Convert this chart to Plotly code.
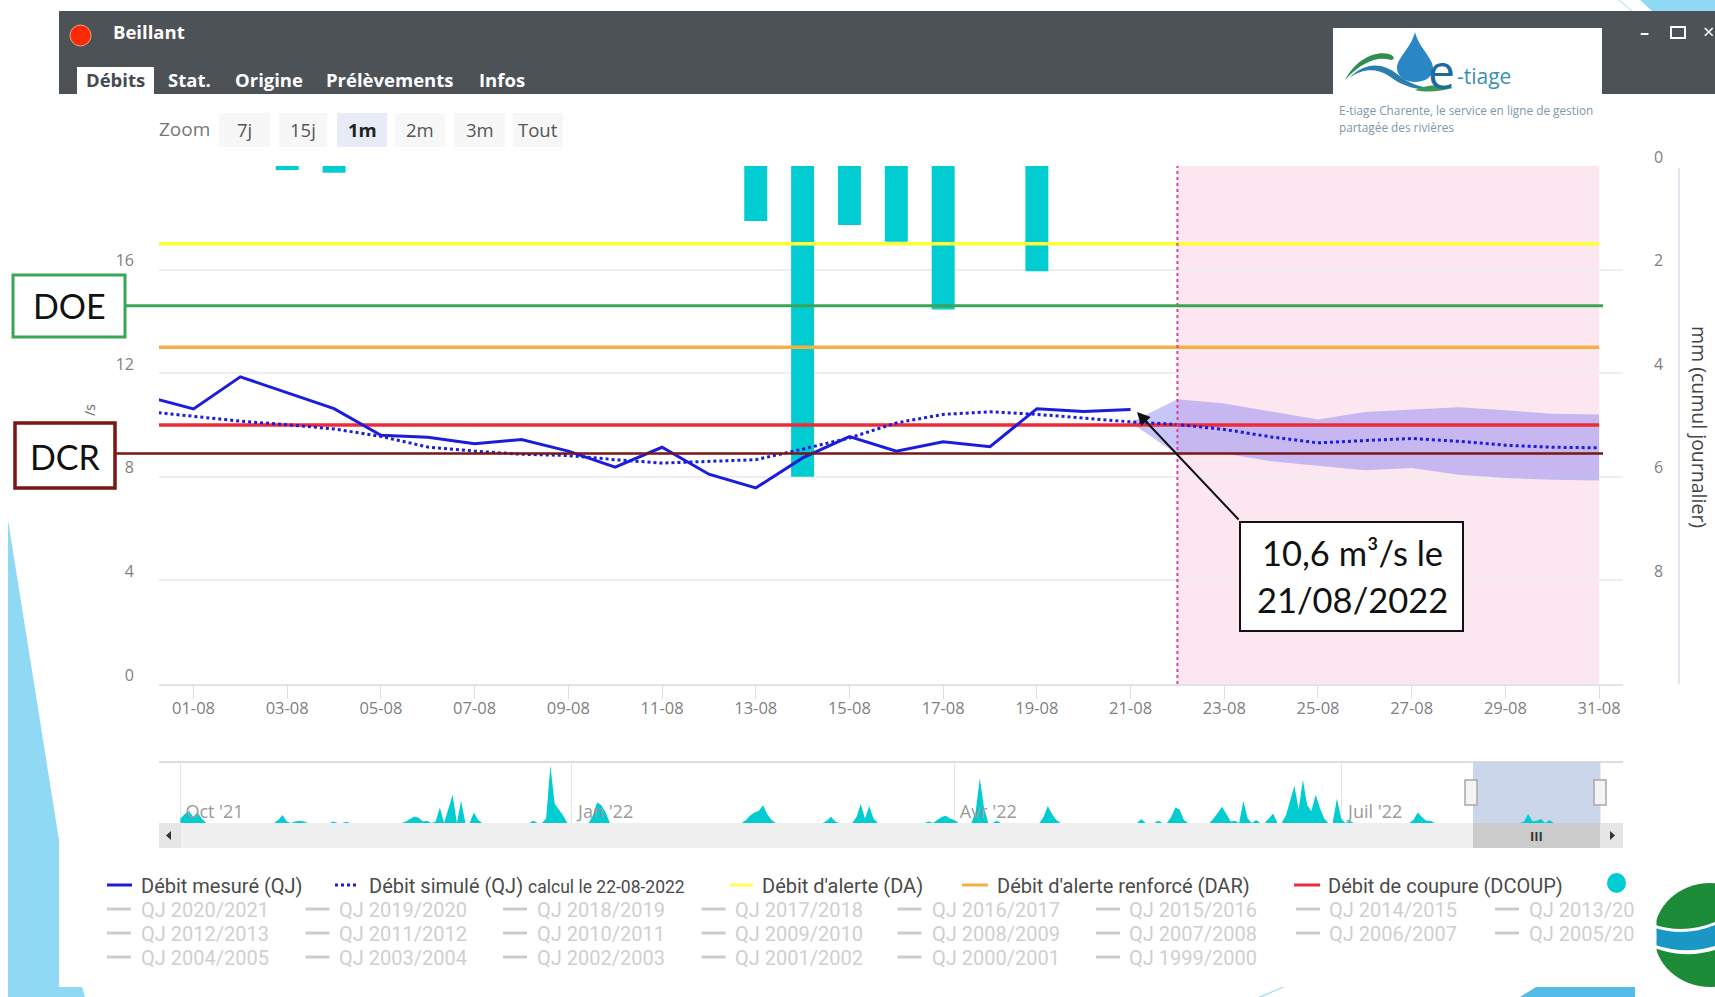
import pandas as pd
import plotly.graph_objects as go

W, H = 1715, 997

# ---------- data ----------
days_obs = [f"2022-07-31"] + [f"2022-08-{d:02d}" for d in range(1, 22)]
debit_mesure = [11.1, 10.62, 11.86, 11.25, 10.63, 9.6, 9.53, 9.28, 9.44, 8.99, 8.37, 9.14,
                8.1, 7.57, 8.73, 9.55, 8.99, 9.35, 9.16, 10.63, 10.52, 10.6]
days_sim = ["2022-07-31"] + [f"2022-08-{d:02d}" for d in range(1, 32)]
debit_simule = [10.52, 10.33, 10.15, 10.01, 9.85, 9.56, 9.15, 8.99, 8.87, 8.82, 8.66, 8.53,
                8.6, 8.66, 9.07, 9.5, 10.08, 10.41, 10.51, 10.41, 10.27, 10.12,
                10.02, 9.83, 9.54, 9.31, 9.4, 9.48, 9.37, 9.22, 9.14, 9.12]
days_band = [f"2022-08-{d:02d}" for d in range(21, 32)]
band_haut = [10.1, 10.99, 10.83, 10.53, 10.21, 10.5, 10.6, 10.69, 10.57, 10.43, 10.41]
band_bas = [10.1, 8.86, 8.9, 8.6, 8.43, 8.25, 8.34, 8.08, 7.95, 7.89, 7.86]
seuil_x = ["2022-07-31", "2022-08-31"]
DA, DAR, DCOUP, DOE, DCR = 17.0, 13.0, 10.0, 14.6, 8.9
pluie_jours = ["2022-08-03", "2022-08-04", "2022-08-13", "2022-08-14", "2022-08-15",
               "2022-08-16", "2022-08-17", "2022-08-19"]
pluie_mm = [0.08, 0.13, 1.06, 6.0, 1.14, 1.46, 2.77, 2.03]

# navigator: days after 2021-10-01 -> mm
nav_jours = [0, 1, 2, 3, 4, 5, 23, 24, 25, 27, 28, 29, 36, 39, 53, 54, 55, 56, 57, 58, 60, 61, 63, 64,
             66, 69, 70, 83, 86, 87, 88, 89, 90, 97, 98, 99, 100, 133, 134, 135, 136, 137, 138, 139,
             152, 153, 154, 159, 160, 161, 162, 163, 176, 178, 179, 180, 181, 182, 187, 188, 189, 192,
             203, 204, 205, 206, 226, 230, 233, 234, 235, 236, 243, 244, 245, 246, 247, 248, 250, 251,
             253, 256, 257, 260, 261, 262, 263, 264, 265, 266, 267, 268, 269, 272, 273, 275,
             290, 291, 292, 293, 294]
nav_mm = [3, 6, 8, 4, 7, 3, 2, 5.3, 1, 1, 1.5, 1, 1, 0.8, 1, 3, 4.4, 3.5, 1, 1.5, 1, 10.4, 9, 19,
          15, 7, 2, 1.5, 3, 38.7, 13, 9, 5, 5, 14, 12, 7, 2, 5, 7, 8, 12, 6, 2,
          1.5, 4.2, 1, 4, 12.7, 3, 11.5, 3, 1, 2, 4, 4.9, 3, 2, 7, 30, 10, 1.5,
          4, 11.5, 6, 2, 2.7, 1.5, 4, 10.4, 9, 2, 3, 7, 11, 6, 1, 1.5, 15, 3,
          2, 3, 6.4, 5, 15, 25, 9, 29, 12, 8, 19, 10, 3, 16.5, 3, 1.5,
          2, 7, 4, 1.5, 1.5]
nav_ticks = ["2021-10-01", "2022-01-01", "2022-04-01", "2022-07-01"]
nav_labels = ["Oct '21", "Jan '22", "Avr '22", "Juil '22"]

onglets = ["Stat.", "Origine", "Prélèvements", "Infos"]
onglets_x = [166, 233, 324, 477]
zoom_btn = ["7j", "15j", "1m", "2m", "3m", "Tout"]
zoom_x = [(219, 270), (279, 327), (337, 387), (395, 445), (454, 505), (513, 563)]
saisons = ["2020/2021", "2019/2020", "2018/2019", "2017/2018", "2016/2017", "2015/2016", "2014/2015", "2013/2014",
           "2012/2013", "2011/2012", "2010/2011", "2009/2010", "2008/2009", "2007/2008", "2006/2007", "2005/2006",
           "2004/2005", "2003/2004", "2002/2003", "2001/2002", "2000/2001", "1999/2000"]

# ---------- colours ----------
C_BAR = "#00ccd2"
C_BLUE = "#1c1cdc"
C_GRID = "#eeeeee"
C_SKY = "#8fd9f5"
FONT = "Open Sans"
FONT_LEG = "Roboto"


def X(px):
    return px / W


def Y(py):
    return 1 - py / H


# ---------- traces ----------
nav_idx = pd.date_range("2021-10-01", "2022-08-31", freq="D")
nav_s = pd.Series(0.0, index=nav_idx)
for j, v in zip(nav_jours, nav_mm):
    nav_s.iloc[j] = v
for d, v in zip(pluie_jours, pluie_mm):
    nav_s.loc[pd.Timestamp(d)] = v

fig = go.Figure()
fig.add_trace(go.Bar(x=pluie_jours, y=pluie_mm, xaxis="x", yaxis="y", marker=dict(color=C_BAR, line_width=0),
                     width=0.49 * 86400000, name="Pluie"))
band_x = days_band + days_band[::-1]
band_y = band_haut + band_bas[::-1]
fig.add_trace(go.Scatter(x=band_x, y=band_y, yaxis="y2", mode="lines", fill="toself",
                         fillcolor="rgba(125,120,240,0.42)", line=dict(width=0), name="Enveloppe"))
fig.add_trace(go.Scatter(x=seuil_x, y=[DA, DA], yaxis="y2", mode="lines",
                         line=dict(color="#ffff33", width=3.5), name="Débit d'alerte (DA)"))
fig.add_trace(go.Scatter(x=seuil_x, y=[DAR, DAR], yaxis="y2", mode="lines",
                         line=dict(color="#f4b040", width=3.5), name="Débit d'alerte renforcé (DAR)"))
fig.add_trace(go.Scatter(x=seuil_x, y=[DCOUP, DCOUP], yaxis="y2", mode="lines",
                         line=dict(color="#ef2b3a", width=3.5), name="Débit de coupure (DCOUP)"))
fig.add_trace(go.Scatter(x=days_sim, y=debit_simule, yaxis="y2", mode="lines",
                         line=dict(color=C_BLUE, width=3, dash="dot"), name="Débit simulé (QJ)"))
fig.add_trace(go.Scatter(x=days_obs, y=debit_mesure, yaxis="y2", mode="lines",
                         line=dict(color=C_BLUE, width=3), name="Débit mesuré (QJ)"))
fig.add_trace(go.Scatter(x=nav_s.index, y=nav_s.values, xaxis="x2", yaxis="y3", mode="lines",
                         fill="tozeroy", fillcolor=C_BAR, line=dict(width=0), name="Navigateur"))

# ---------- chrome ----------
shapes, notes = [], []


def rect(x0, y0, x1, y1, fill, line=None, lw=0, layer="below"):
    shapes.append(dict(type="rect", xref="paper", yref="paper", x0=X(x0), x1=X(x1), y0=Y(y0), y1=Y(y1),
                       fillcolor=fill, line=dict(color=line or fill, width=lw), layer=layer))


def poly(pts, fill, layer="below"):
    d = "M " + " L ".join(f"{X(a):.5f} {Y(b):.5f}" for a, b in pts) + " Z"
    shapes.append(dict(type="path", xref="paper", yref="paper", path=d, fillcolor=fill,
                       line=dict(width=0), layer=layer))


def curve(segs, fill, layer="below"):
    out = []
    for cmd, pts in segs:
        coords = " ".join(f"{X(pts[i]):.5f} {Y(pts[i + 1]):.5f}" for i in range(0, len(pts), 2))
        out.append(f"{cmd} {coords}")
    shapes.append(dict(type="path", xref="paper", yref="paper", path=" ".join(out) + " Z",
                       fillcolor=fill, line=dict(width=0), layer=layer))


def hline(x0, x1, py, color, lw, dash="solid"):
    shapes.append(dict(type="line", xref="paper", yref="paper", x0=X(x0), x1=X(x1), y0=Y(py), y1=Y(py),
                       line=dict(color=color, width=lw, dash=dash), layer="below"))


def txt(px, py, text, size, color, anchor="left", bold=False, angle=0, font=FONT):
    notes.append(dict(x=X(px), y=Y(py), xref="paper", yref="paper", text=f"<b>{text}</b>" if bold else text,
                      showarrow=False, xanchor=anchor, yanchor="middle", textangle=angle,
                      font=dict(size=size, color=color, family=font)))


# page background
poly([(8, 520), (59, 840), (59, 987), (82, 987), (85, 997), (8, 997)], C_SKY)
poly([(1520, 997), (1536, 987), (1635, 987), (1635, 997)], "#55bce9")
poly([(1258, 997), (1282, 987), (1285, 987), (1262, 997)], "#a5def5")
poly([(1640, 0), (1652, 11), (1715, 11), (1715, 0)], C_SKY)
poly([(1618, 0), (1631, 11), (1633, 11), (1620, 0)], "#c4e9f8")
# logo disc bottom right
shapes.append(dict(type="circle", xref="paper", yref="paper", x0=X(1654), x1=X(1766), y0=Y(987), y1=Y(883),
                   fillcolor="#1d8c39", line=dict(width=0), layer="below"))
curve([("M", (1652, 924)), ("C", (1675, 932, 1695, 930, 1715, 922)), ("L", (1715, 950)),
       ("C", (1695, 956, 1675, 956, 1652, 947))], "#ffffff")
curve([("M", (1652, 927)), ("C", (1675, 935, 1695, 933, 1715, 925)), ("L", (1715, 946)),
       ("C", (1695, 952, 1675, 952, 1652, 944))], "#1b97c6")

# window header
rect(59, 11, W, 94, "#4d5257")
shapes.append(dict(type="circle", xref="paper", yref="paper", x0=X(70), x1=X(91), y0=Y(46), y1=Y(25),
                   fillcolor="#fb2a04", line=dict(color="#f4a090", width=1), layer="below"))
txt(111, 32, "Beillant", 18.5, "#ffffff", bold=True)
rect(77, 67, 154, 95, "#ffffff")
txt(115.5, 80, "Débits", 18.5, "#444a50", anchor="center", bold=True)
for name, px in zip(onglets, onglets_x):
    txt(px, 80, name, 18.5, "#ffffff", bold=True)
txt(1644, 32, "–", 18, "#ffffff", anchor="center", bold=True)
rect(1671, 27, 1685, 38, "rgba(0,0,0,0)", "#ffffff", 2)
txt(1708, 32, "×", 20, "#ffffff", anchor="center")

# e-tiage logo
rect(1333, 28, 1602, 134, "#ffffff")
curve([("M", (1345, 80)), ("C", (1355, 60, 1375, 50, 1389, 54)), ("C", (1395, 56, 1395, 60, 1391, 60)),
       ("C", (1377, 56, 1362, 62, 1345, 80))], "#2f8f4e")
curve([("M", (1349, 78)), ("C", (1365, 62, 1382, 62, 1397, 74)), ("C", (1409, 84, 1422, 88, 1435, 88)),
       ("C", (1419, 92, 1402, 86, 1389, 76)), ("C", (1377, 68, 1363, 68, 1349, 78))], "#2a7fb0")
curve([("M", (1415, 90)), ("C", (1427, 84, 1442, 84, 1453, 88)), ("C", (1442, 91, 1427, 93, 1415, 90))], "#3a9a55")
curve([("M", (1415, 32)), ("C", (1411, 48, 1397, 58, 1397, 68)), ("C", (1397, 77, 1406, 82, 1415, 82)),
       ("C", (1425, 82, 1433, 77, 1433, 68)), ("C", (1433, 58, 1419, 48, 1415, 32))], "#2b86c5")
txt(1426, 70, "e", 48, "#1e6a9c")
txt(1455, 76, "-tiage", 21, "#3a8fb7")
txt(1337, 110, "E-tiage Charente, le service en ligne de gestion", 11.8, "#7f97a8")
txt(1337, 127, "partagée des rivières", 11.8, "#7f97a8")

# zoom buttons
txt(157, 129, "Zoom", 19, "#777777")
for name, (a, b) in zip(zoom_btn, zoom_x):
    on = name == "1m"
    rect(a, 113, b, 147, "#e6ebf5" if on else "#f7f7f7")
    txt((a + b) / 2, 129, name, 18.5, "#222222" if on else "#555555", anchor="center", bold=on)

# forecast zone
shapes.append(dict(type="rect", xref="x", yref="paper", x0="2022-08-22", x1="2022-08-31", y0=Y(684), y1=Y(166),
                   fillcolor="#fce6f0", line=dict(width=0), layer="below"))
shapes.append(dict(type="line", xref="x", yref="paper", x0="2022-08-22", x1="2022-08-22", y0=Y(684), y1=Y(166),
                   line=dict(color="#e0409a", width=2, dash="dot"), layer="above"))

# navigator furniture
hline(159, 1623, 762, "#dddddd", 2)
shapes.append(dict(type="rect", xref="x2", yref="paper", x0="2022-08-01", x1="2022-08-31", y0=Y(823), y1=Y(762),
                   fillcolor="#ccd6eb", line=dict(width=0), layer="below"))
rect(159, 823, 1623, 848, "#f0f0f0")
rect(159, 823, 181, 848, "#e6e6e6")
shapes.append(dict(type="rect", xref="x2", yref="paper", x0="2022-08-01", x1="2022-08-31", y0=Y(848), y1=Y(823),
                   fillcolor="#cbcbcb", line=dict(width=0), layer="below"))
rect(1600, 823, 1623, 848, "#e6e6e6")
poly([(171, 831), (171, 840), (166, 835.5)], "#333333")
poly([(1610, 831), (1610, 840), (1615, 835.5)], "#333333")
for a in (1465, 1594):
    rect(a, 780, a + 12, 805, "#f4f4f4", "#a8a8a8", 1.5, layer="above")
txt(1536, 836, "III", 13, "#333333", anchor="center", bold=True)

# right axis rule and titles
shapes.append(dict(type="line", xref="paper", yref="paper", x0=X(1679), x1=X(1679), y0=Y(684), y1=Y(168),
                   line=dict(color="#d9dee8", width=1.5), layer="below"))
txt(1699, 427, "mm (cumul journalier)", 19.5, "#444444", anchor="center", angle=90)
txt(89, 410, "/s", 14, "#666666", anchor="center", angle=-90)

# DOE / DCR overlays (drawn on the flow axis)
for val, x0, x1, col, lw in ((DOE, 125, 1603, "#3aa655", 3), (DCR, 115, 1603, "#7a1616", 2.5)):
    shapes.append(dict(type="line", xref="paper", yref="y2", x0=X(x0), x1=X(x1), y0=val, y1=val,
                       line=dict(color=col, width=lw), layer="above"))
rect(13, 275, 125, 337, "#ffffff", "#3aa655", 3, layer="above")
rect(15, 423, 115, 488, "#ffffff", "#7a1616", 3.5, layer="above")
txt(69, 305, "DOE", 34, "#111111", anchor="center", font="Lato")
txt(65, 456, "DCR", 34, "#111111", anchor="center", font="Lato")

# callout
rect(1240, 522, 1463, 631, "#ffffff", "#111111", 2, layer="above")
txt(1352, 552, "10,6 m³/s le", 34.5, "#111111", anchor="center", font="Lato")
txt(1352, 599, "21/08/2022", 34.5, "#111111", anchor="center", font="Lato")
notes.append(dict(x=X(1137), y=Y(412), xref="paper", yref="paper", text="", showarrow=True, arrowhead=2,
                  arrowsize=1.3, arrowwidth=2, arrowcolor="#111111", axref="pixel", ayref="pixel", ax=103, ay=109))

# legend
row1 = [(107, 132, 139, "Débit mesuré (QJ)", C_BLUE, "solid"),
        (335, 358, 367, "Débit simulé (QJ) <span style='font-size:17.5px'>calcul le 22-08-2022</span>", C_BLUE, "dot"),
        (730, 753, 760, "Débit d'alerte (DA)", "#ffff55", "solid"),
        (962, 988, 995, "Débit d'alerte renforcé (DAR)", "#f4b040", "solid"),
        (1294, 1320, 1326, "Débit de coupure (DCOUP)", "#ef2b3a", "solid")]
for a, b, t, label, col, dash in row1:
    hline(a, b, 885, col, 3, dash)
    txt(t, 886, label, 20, "#4a4a4a", font=FONT_LEG)
shapes.append(dict(type="circle", xref="paper", yref="paper", x0=X(1607), x1=X(1626), y0=Y(893), y1=Y(873),
                   fillcolor=C_BAR, line=dict(width=0), layer="below"))
col_sym = [107, 305.5, 503, 701.6, 897.5, 1096, 1296, 1495]
col_txt = [139, 337, 535, 733, 930, 1127, 1327, 1527]
row_y = [910, 934, 958]
for k, s in enumerate(saisons):
    r, c = divmod(k, 8)
    hline(col_sym[c], col_sym[c] + 24, row_y[r] - 1, "#cccccc", 3)
    txt(col_txt[c], row_y[r], "QJ " + s, 20, "#cfcfcf", font=FONT_LEG)
# the last legend column is cut off by the panel edge
notes.append(dict(x=X(1635), y=Y(922), xref="paper", yref="paper", text="", showarrow=False, xanchor="left",
                  yanchor="middle", width=18, height=56, bgcolor="#ffffff"))

fig.update_layout(
    width=W, height=H, margin=dict(l=0, r=0, t=0, b=0, autoexpand=False), autosize=False,
    paper_bgcolor="#ffffff", plot_bgcolor="rgba(0,0,0,0)", showlegend=False, hovermode=False,
    font=dict(family=FONT, color="#666666"), bargap=0.5,
    shapes=shapes, annotations=notes,
    xaxis=dict(domain=[X(159), X(1623)], range=["2022-07-31 06:20", "2022-08-31 12:14"], anchor="y", type="date",
               tick0="2022-08-01", dtick=2 * 86400000, tickformat="%d-%m", ticks="outside", ticklen=13,
               tickcolor="#dcdfe8", showgrid=False, showline=True, linecolor="#dfe3ec", linewidth=1.5, zeroline=False,
               automargin=False, ticklabelstandoff=-5, tickfont=dict(size=16.5, color="#808080")),
    yaxis=dict(domain=[Y(684), Y(166)], range=[10, 0], side="right", anchor="x", tickvals=[0, 2, 4, 6, 8, 10],
               ticktext=["0", "2", "4", "6", "8", ""], gridcolor=C_GRID, gridwidth=1.5, zeroline=False,
               showline=False, ticks="", ticklabelstandoff=30, ticklabelshift=9, automargin=False,
               tickfont=dict(size=16, color="#808080")),
    yaxis2=dict(domain=[Y(684), Y(166)], range=[0, 20], side="left", overlaying="y", anchor="x",
                tickvals=[0, 4, 8, 12, 16], showgrid=False, zeroline=False, showline=False, ticks="",
                ticklabelstandoff=24, ticklabelshift=-9, automargin=False,
                tickfont=dict(size=16, color="#808080")),
    xaxis2=dict(domain=[X(159), X(1623)], range=["2021-09-25 22:30", "2022-09-05 07:00"], anchor="y3", type="date",
                tickvals=nav_ticks, ticktext=nav_labels, ticklabelposition="inside", ticklabelshift=34,
                ticklabelstandoff=-2, ticks="", showgrid=True, gridcolor="#e3e3e3", gridwidth=1, showline=False,
                zeroline=False, automargin=False, tickfont=dict(size=18, color="#9a9a9a")),
    yaxis3=dict(domain=[Y(823), Y(762)], range=[0, 41], anchor="x2", visible=False, automargin=False),
)

fig.write_html("out.html", config={"displayModeBar": False},
               post_script="document.body.style.margin='0';document.body.style.overflow='hidden';")
